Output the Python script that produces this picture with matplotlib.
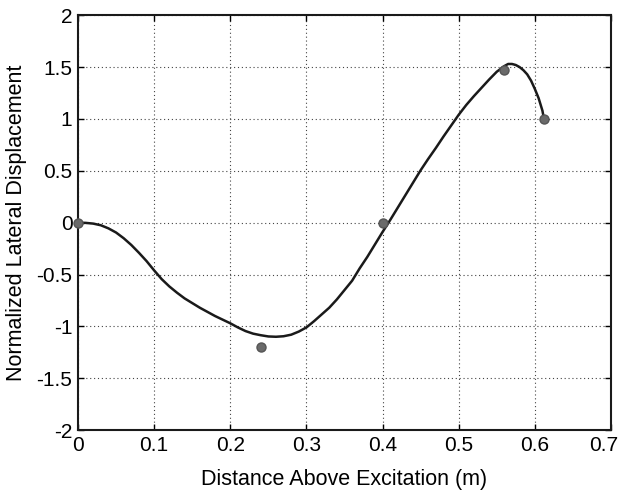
import matplotlib
matplotlib.use("Agg")
import matplotlib.pyplot as plt
from matplotlib.transforms import ScaledTranslation

plt.rcParams["font.family"] = ["Liberation Sans", "DejaVu Sans"]

# Fitted mode shape
curve_x = [0.0, 0.01, 0.02, 0.03, 0.04, 0.05, 0.06, 0.07, 0.08, 0.09,
           0.10, 0.11, 0.12, 0.13, 0.14, 0.15, 0.16, 0.17, 0.18, 0.19,
           0.20, 0.21, 0.22, 0.23, 0.24, 0.25, 0.26, 0.27, 0.28, 0.29,
           0.30, 0.31, 0.32, 0.33, 0.34, 0.35, 0.36, 0.37, 0.38, 0.39,
           0.40, 0.41, 0.42, 0.43, 0.44, 0.45, 0.46, 0.47, 0.48, 0.49,
           0.50, 0.51, 0.52, 0.53, 0.54, 0.55, 0.56, 0.565, 0.57, 0.575,
           0.58, 0.585, 0.59, 0.595, 0.60, 0.605, 0.61, 0.612]
curve_y = [0.0, -0.002, -0.009, -0.025, -0.055, -0.095, -0.15, -0.215, -0.29, -0.37,
           -0.46, -0.545, -0.615, -0.675, -0.73, -0.775, -0.82, -0.86, -0.90, -0.935,
           -0.97, -1.01, -1.045, -1.07, -1.085, -1.097, -1.10, -1.095, -1.08, -1.05,
           -1.01, -0.95, -0.885, -0.82, -0.74, -0.65, -0.56, -0.44, -0.33, -0.21,
           -0.09, 0.025, 0.145, 0.265, 0.385, 0.505, 0.615, 0.72, 0.83, 0.935,
           1.04, 1.135, 1.22, 1.30, 1.38, 1.455, 1.51, 1.53, 1.53, 1.52,
           1.50, 1.47, 1.43, 1.37, 1.29, 1.20, 1.08, 1.0]

# Measured points
meas_x = [0.0, 0.24, 0.40, 0.56, 0.612]
meas_y = [0.0, -1.2, 0.0, 1.47, 1.0]

x_ticks = [0, 0.1, 0.2, 0.3, 0.4, 0.5, 0.6, 0.7]
x_labels = ["0", "0.1", "0.2", "0.3", "0.4", "0.5", "0.6", "0.7"]
y_ticks = [-2, -1.5, -1, -0.5, 0, 0.5, 1, 1.5, 2]
y_labels = ["-2", "-1.5", "-1", "-0.5", "0", "0.5", "1", "1.5", "2"]

fig = plt.figure(figsize=(6.19, 4.91), dpi=100)
ax = fig.add_axes([0.126, 0.124, 0.861, 0.845])

ax.plot(curve_x, curve_y, color="#1a1a1a", lw=1.8, solid_capstyle="round",
        solid_joinstyle="round", zorder=3)
ax.plot(meas_x, meas_y, "o", color="#6a6a6a", mec="#555555", ms=6.5, zorder=4,
        clip_on=False)

ax.set_xlim(0, 0.7)
ax.set_ylim(-2, 2)
ax.set_xticks(x_ticks)
ax.set_yticks(y_ticks)
ax.set_xticklabels(x_labels)
ax.set_yticklabels(y_labels)
ax.grid(True, linestyle=(0, (1, 2.5)), color="#444444", lw=0.8)
ax.tick_params(direction="in", length=4, top=True, right=True,
               labelsize=15, pad=4, width=1)
for s in ax.spines.values():
    s.set_linewidth(1.5)
    s.set_color("#1a1a1a")

# keep the last x label inside the canvas
last = ax.get_xticklabels()[-1]
last.set_transform(last.get_transform() + ScaledTranslation(-7 / 100, 0, fig.dpi_scale_trans))

ax.set_xlabel("Distance Above Excitation (m)", fontsize=15.5, labelpad=10)
ax.set_ylabel("Normalized Lateral Displacement", fontsize=15.5, labelpad=7)

fig.savefig("out.png", dpi=100)
